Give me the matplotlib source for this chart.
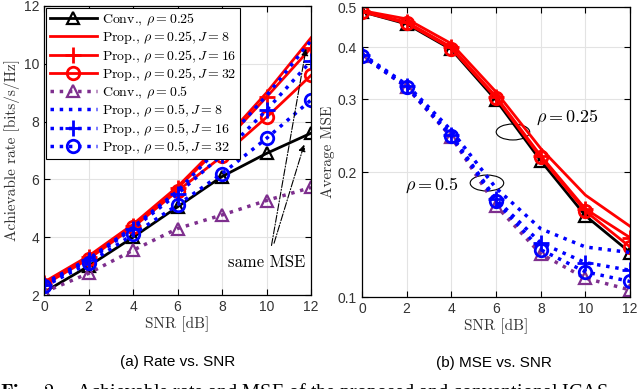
import matplotlib
matplotlib.use("Agg")
import matplotlib.pyplot as plt
from matplotlib.patches import Ellipse
import numpy as np

plt.rcParams['mathtext.fontset'] = 'cm'
plt.rcParams['font.family'] = ['Liberation Sans', 'DejaVu Sans']

snr = [0, 2, 4, 6, 8, 10, 12]

# Rate (bits/s/Hz)
rate_conv_025 = [2.1, 3.0, 4.0, 5.05, 6.1, 6.9, 7.6]
rate_prop_025_J8 = [2.45, 3.35, 4.45, 5.75, 7.3, 9.0, 10.9]
rate_prop_025_J16 = [2.4, 3.3, 4.4, 5.7, 7.2, 8.85, 10.55]
rate_prop_025_J32 = [2.35, 3.25, 4.35, 5.6, 6.8, 8.15, 9.6]
rate_conv_05 = [2.1, 2.75, 3.55, 4.3, 4.77, 5.27, 5.72]
rate_prop_05_J8 = [2.4, 3.25, 4.35, 5.6, 7.2, 8.9, 10.8]
rate_prop_05_J16 = [2.35, 3.2, 4.3, 5.5, 6.85, 8.4, 10.1]
rate_prop_05_J32 = [2.3, 3.1, 4.1, 5.12, 6.2, 7.42, 8.75]

# Average MSE
mse_conv_025 = [0.487, 0.455, 0.395, 0.298, 0.213, 0.157, 0.128]
mse_prop_025_J8 = [0.49, 0.468, 0.408, 0.312, 0.228, 0.176, 0.148]
mse_prop_025_J16 = [0.488, 0.46, 0.4, 0.304, 0.219, 0.163, 0.139]
mse_prop_025_J32 = [0.487, 0.457, 0.397, 0.302, 0.217, 0.161, 0.132]
mse_conv_05 = [0.382, 0.32, 0.243, 0.166, 0.127, 0.111, 0.104]
mse_prop_05_J8 = [0.385, 0.325, 0.252, 0.183, 0.146, 0.132, 0.128]
mse_prop_05_J16 = [0.383, 0.322, 0.246, 0.172, 0.135, 0.121, 0.116]
mse_prop_05_J32 = [0.382, 0.321, 0.244, 0.17, 0.13, 0.115, 0.109]

labels = [r'Conv., $\rho = 0.25$',
          r'Prop., $\rho = 0.25, J = 8$',
          r'Prop., $\rho = 0.25, J = 16$',
          r'Prop., $\rho = 0.25, J = 32$',
          r'Conv., $\rho = 0.5$',
          r'Prop., $\rho = 0.5, J = 8$',
          r'Prop., $\rho = 0.5, J = 16$',
          r'Prop., $\rho = 0.5, J = 32$']

purple = '#7E2F8E'
styles = [
    dict(color='k', ls='-', marker='^', mfc='none', ms=9, mew=1.6, lw=2),
    dict(color='r', ls='-', marker=None, lw=2),
    dict(color='r', ls='-', marker='+', ms=11, mew=2, lw=2),
    dict(color='r', ls='-', marker='o', mfc='none', ms=9, mew=2, lw=2),
    dict(color=purple, ls=':', marker='^', mfc='none', ms=9, mew=1.6, lw=2.5),
    dict(color='b', ls=':', marker=None, lw=2.5),
    dict(color='b', ls=':', marker='+', ms=11, mew=2, lw=2.5),
    dict(color='b', ls=':', marker='o', mfc='none', ms=9, mew=2, lw=2.5),
]

rate_series = [rate_conv_025, rate_prop_025_J8, rate_prop_025_J16, rate_prop_025_J32,
               rate_conv_05, rate_prop_05_J8, rate_prop_05_J16, rate_prop_05_J32]
mse_series = [mse_conv_025, mse_prop_025_J8, mse_prop_025_J16, mse_prop_025_J32,
              mse_conv_05, mse_prop_05_J8, mse_prop_05_J16, mse_prop_05_J32]

fig = plt.figure(figsize=(6.4, 3.89), dpi=100)
ax1 = fig.add_axes([0.069, 0.2416, 0.417, 0.743])
ax2 = fig.add_axes([0.5656, 0.2365, 0.419, 0.7455])

for ax in (ax1, ax2):
    ax.grid(True, color='#e3e3e3', lw=0.8)
    ax.set_axisbelow(True)
    ax.tick_params(direction='in', labelsize=10, length=4, width=0.8,
                   top=True, right=True, colors='k', labelcolor='#333333')
    for s in ax.spines.values():
        s.set_linewidth(0.9)

for data, st, lab in zip(rate_series, styles, labels):
    ax1.plot(snr, data, label=lab, **st)
for data, st, lab in zip(mse_series, styles, labels):
    ax2.plot(snr, data, label=lab, **st)

cm = 'cmr10'
ax1.set_xlim(0, 12)
ax1.set_ylim(2, 12)
ax1.set_xticks(snr)
ax1.set_yticks([2, 4, 6, 8, 10, 12])
ax1.set_xlabel('SNR [dB]', fontsize=11, color='#333333', labelpad=2, family=cm)
ax1.set_ylabel('Achievable rate [bits/s/Hz]', fontsize=11, color='#333333', labelpad=3, family=cm)

leg = ax1.legend(loc='upper left', prop={'family': cm, 'size': 10}, handlelength=3.4,
                 handletextpad=0.4, labelspacing=0.1, borderpad=0.25, borderaxespad=0.15,
                 fancybox=False, framealpha=1, edgecolor='k')
leg.get_frame().set_linewidth(0.8)

ax1.annotate('', xy=(11.8, 10.62), xytext=(10.2, 3.62),
             arrowprops=dict(arrowstyle='-|>', ls='-.', lw=0.8, color='k', mutation_scale=10))
ax1.annotate('', xy=(11.73, 7.3), xytext=(10.3, 3.7),
             arrowprops=dict(arrowstyle='-|>', ls='-.', lw=0.8, color='k', mutation_scale=10))
ax1.text(10.0, 3.14, 'same MSE', fontsize=12, ha='center', va='center', family=cm)

ax2.set_yscale('log')
ax2.set_xlim(0, 12)
ax2.set_ylim(0.1, 0.5)
ax2.set_xticks(snr)
ax2.set_yticks([0.1, 0.2, 0.3, 0.4, 0.5])
ax2.set_yticklabels(['0.1', '0.2', '0.3', '0.4', '0.5'])
ax2.yaxis.set_minor_locator(matplotlib.ticker.NullLocator())
ax2.set_xlabel('SNR [dB]', fontsize=11, color='#333333', labelpad=2, family=cm)
ax2.set_ylabel('Average MSE', fontsize=11, color='#333333', labelpad=2, family=cm)

ax2.add_patch(Ellipse((0.563, 0.569), 0.125, 0.055, transform=ax2.transAxes,
                      fill=False, ec='k', lw=0.8))
ax2.add_patch(Ellipse((0.466, 0.393), 0.125, 0.055, transform=ax2.transAxes,
                      fill=False, ec='k', lw=0.8))
ax2.text(0.65, 0.62, r'$\rho = 0.25$', transform=ax2.transAxes, fontsize=13,
         ha='left', va='center')
ax2.text(0.16, 0.387, r'$\rho = 0.5$', transform=ax2.transAxes, fontsize=13,
         ha='left', va='center')

fig.text(0.278, 0.07, '(a) Rate vs. SNR', fontsize=11, ha='center', va='center')
fig.text(0.772, 0.068, '(b) MSE vs. SNR', fontsize=11, ha='center', va='center')
fig.text(0.0, -0.01, r'$\mathbf{Fig.\ 2:}$  Achievable rate and MSE of the proposed and conventional ICAS',
         fontsize=14.5, ha='left', va='center', family='Liberation Serif')

fig.savefig('out.png', dpi=100)
